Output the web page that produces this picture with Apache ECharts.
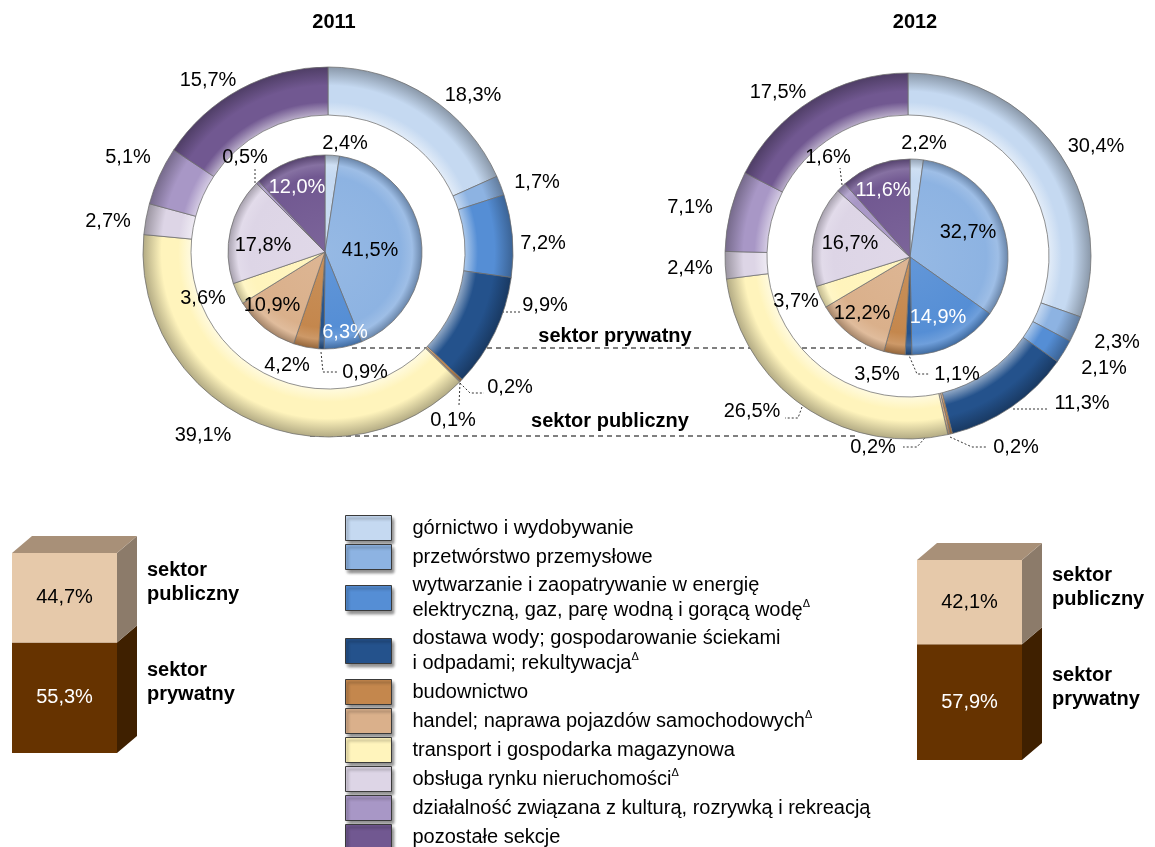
<!DOCTYPE html>
<html><head><meta charset="utf-8">
<script src="https://cdn.jsdelivr.net/npm/echarts/dist/echarts.min.js"></script>
<style>html,body{margin:0;padding:0;background:#fff}#c{width:1155px;height:847px}</style>
</head><body><div id="c"></div>
<script>
// ---------- DATA ----------
const categories = [
  'górnictwo i wydobywanie',
  'przetwórstwo przemysłowe',
  'wytwarzanie i zaopatrywanie w energię elektryczną, gaz, parę wodną i gorącą wodę',
  'dostawa wody; gospodarowanie ściekami i odpadami; rekultywacja',
  'budownictwo',
  'handel; naprawa pojazdów samochodowych',
  'transport i gospodarka magazynowa',
  'obsługa rynku nieruchomości',
  'działalność związana z kulturą, rozrywką i rekreacją',
  'pozostałe sekcje'
];
const legendText = [
  'górnictwo i wydobywanie',
  'przetwórstwo przemysłowe',
  '{L|wytwarzanie i zaopatrywanie w energię}\n{L|elektryczną, gaz, parę wodną i gorącą wodę}{sup|Δ}',
  '{L|dostawa wody; gospodarowanie ściekami}\n{L|i odpadami; rekultywacja}{sup|Δ}',
  'budownictwo',
  'handel; naprawa pojazdów samochodowych{sup|Δ}',
  'transport i gospodarka magazynowa',
  'obsługa rynku nieruchomości{sup|Δ}',
  'działalność związana z kulturą, rozrywką i rekreacją',
  'pozostałe sekcje'
];
const years = ['2011', '2012'];
const public2011  = [18.3, 1.7, 7.2, 9.9, 0.2, 0.1, 39.1, 2.7, 5.1, 15.7];
const private2011 = [2.4, 41.5, 6.3, 0.9, 4.2, 10.9, 3.6, 17.8, 0.5, 12.0];
const public2012  = [30.4, 2.3, 2.1, 11.3, 0.2, 0.2, 26.5, 2.4, 7.1, 17.5];
const private2012 = [2.2, 32.7, 14.9, 1.1, 3.5, 12.2, 3.7, 16.7, 1.6, 11.6];
const sectorNames = ['sektor publiczny', 'sektor prywatny'];
const sectorShare2011 = [44.7, 55.3];
const sectorShare2012 = [42.1, 57.9];
const connectorLabels = ['sektor prywatny', 'sektor publiczny'];

// ---------- STYLE / LAYOUT ----------
const FONT = "'Liberation Sans', Arial, Helvetica, sans-serif";
const catColors = ['#C5D9F1','#8DB3E2','#558ED5','#24528C','#C4874D','#DAB08B','#FFF4BC','#DDD5E6','#A897C6','#715891'];
const whiteInner = [2, 9];
const cubeStyles = [
  {front:'#E6C9AA', side:'#8C7B6A', top:'#A89078', text:'#000'},
  {front:'#663300', side:'#3F2000', top:'#4a2600', text:'#fff'}
];
function shade(hex, amt) {
  const n = parseInt(hex.slice(1), 16);
  let r = n >> 16, g = (n >> 8) & 255, b = n & 255;
  if (amt >= 0) { r += (255 - r) * amt; g += (255 - g) * amt; b += (255 - b) * amt; }
  else { r *= (1 + amt); g *= (1 + amt); b *= (1 + amt); }
  return 'rgb(' + Math.round(r) + ',' + Math.round(g) + ',' + Math.round(b) + ')';
}
function fmt(v) { return v.toFixed(1).replace('.', ',') + '%'; }

// pie geometry
const pies = [
  {values: public2011,  center: [328, 252], radius: [137, 185], ring: true},
  {values: private2011, center: [325, 252], radius: [0, 97],   ring: false},
  {values: public2012,  center: [908, 256], radius: [141, 183], ring: true},
  {values: private2012, center: [910, 257], radius: [0, 98],   ring: false}
];
// label offsets from pie center: [dx, dy, leaderLinePoints(optional)]
const labelPlace = [
  [[145,-157],[209,-70],[215,-9],[217,53,[[174,60],[193,60]]],[182,135,[[132,131],[142,141],[156,141]]],
   [125,168,[[132,131],[131,153]]],[-125,183],[-220,-31],[-200,-95],[-120,-172]],
  [[20,-109],[45,-2],[20,80],[40,120,[[-4,100],[-2,120],[13,120]]],[-38,113],[-53,53],[-122,46],[-62,-7],
   [-80,-95,[[-70,-69],[-70,-84]]],[-28,-65]],
  [[188,-110],[209,86],[196,112],[174,147,[[105,153],[140,153]]],[108,191,[[42,181],[64,191],[79,191]]],
   [-35,191,[[35,161],[9,191],[-5,191]]],[-156,155,[[-106,151],[-110,162],[-123,162]]],[-218,12],[-218,-49],[-130,-164]],
  [[14,-114],[58,-25],[28,60],[47,117,[[-2,96],[7,117],[20,117]]],[-33,117],[-48,56],[-114,44],[-60,-14],
   [-82,-100,[[-68,-72],[-70,-89]]],[-27,-67]]
];

function pieSeries(k) {
  const P = pies[k];
  const c = P.center, R = P.radius[1];
  return {
    type: 'pie', center: c, radius: P.radius, startAngle: 90, clockwise: true,
    avoidLabelOverlap: false, silent: true, z: 3,
    label: {show: true, position: 'outside', fontSize: 20, fontFamily: FONT, color: '#000',
      formatter: p => fmt(p.value)},
    labelLine: {show: false, smooth: false, lineStyle: {color: '#333', width: 1, type: [2, 2]}},
    labelLayout: function (p) {
      const it = labelPlace[k][p.dataIndex];
      const o = {x: c[0] + it[0], y: c[1] + it[1], align: 'center', verticalAlign: 'middle'};
      if (it[2]) o.labelLinePoints = it[2].map(q => [c[0] + q[0], c[1] + q[1]]);
      return o;
    },
    data: P.values.map((v, i) => {
      const col = catColors[i];
      let stops;
      if (P.ring) {
        const a = P.radius[0] / R;
        stops = [{offset: 0, color: col}, {offset: a, color: shade(col, 0.5)}, {offset: a + 0.07, color: col},
                 {offset: 0.9, color: col}, {offset: 1, color: shade(col, -0.3)}];
      } else {
        stops = [{offset: 0, color: shade(col, 0.08)}, {offset: 0.78, color: col},
                 {offset: 0.9, color: shade(col, 0.15)}, {offset: 1, color: shade(col, -0.25)}];
      }
      const d = {
        name: categories[i], value: v,
        itemStyle: {color: {type: 'radial', x: c[0], y: c[1], r: R, global: true, colorStops: stops},
                    borderColor: 'rgba(110,110,110,0.75)', borderWidth: 1}
      };
      if (labelPlace[k][i][2]) d.labelLine = {show: true};
      if (!P.ring && whiteInner.indexOf(i) >= 0) d.label = {color: '#fff'};
      return d;
    })
  };
}

function cubeRender(params, api) {
  const start = api.value(0), end = api.value(1), k = api.value(2), share = api.value(3);
  const pA = api.coord([0, start]), pB = api.coord([1, end]);
  const x0 = pA[0], yb = pA[1], x1 = pB[0], yt = pB[1];
  const dx = 20, dy = 17;
  const st = cubeStyles[k];
  const ch = [
    {type: 'rect', shape: {x: x0, y: yt, width: x1 - x0, height: yb - yt}, style: {fill: st.front}},
    {type: 'polygon', shape: {points: [[x1, yt], [x1 + dx, yt - dy], [x1 + dx, yb - dy], [x1, yb]]}, style: {fill: st.side}}
  ];
  if (end >= 99.99) ch.push({type: 'polygon', shape: {points: [[x0, yt], [x0 + dx, yt - dy], [x1 + dx, yt - dy], [x1, yt]]}, style: {fill: st.top}});
  ch.push({type: 'text', x: (x0 + x1) / 2, y: (yt + yb) / 2,
    style: {text: fmt(share), fill: st.text, font: '20px ' + FONT, align: 'center', verticalAlign: 'middle'}});
  ch.push({type: 'text', x: x1 + dx + 10, y: (yt + yb) / 2 - 15,
    style: {text: sectorNames[k].replace(' ', '\n'), fill: '#000', font: 'bold 20px ' + FONT,
      align: 'left', verticalAlign: 'middle', lineHeight: 24}});
  return {type: 'group', children: ch};
}
function cubeData(sh) { return [[0, sh[1], 1, sh[1]], [sh[1], sh[1] + sh[0], 0, sh[0]]]; }

const option = {
  animation: false,
  title: [
    {text: years[0], left: 329, top: 7, textAlign: 'center', textStyle: {fontSize: 20, fontWeight: 'bold', fontFamily: FONT, color: '#000'}},
    {text: years[1], left: 910, top: 7, textAlign: 'center', textStyle: {fontSize: 20, fontWeight: 'bold', fontFamily: FONT, color: '#000'}}
  ],
  grid: [
    {left: 12, top: 553, width: 105, height: 200},
    {left: 917, top: 560, width: 105, height: 200}
  ],
  xAxis: [
    {gridIndex: 0, type: 'value', min: 0, max: 1, show: false},
    {gridIndex: 1, type: 'value', min: 0, max: 1, show: false}
  ],
  yAxis: [
    {gridIndex: 0, type: 'value', min: 0, max: 100, show: false},
    {gridIndex: 1, type: 'value', min: 0, max: 100, show: false}
  ],
  legend: {
    orient: 'vertical', left: 340, top: 510, height: 420, itemWidth: 46, itemHeight: 25, itemGap: 3,
    icon: 'rect', selectedMode: false,
    data: categories.map((c, i) => ({name: c, itemStyle: {color: catColors[i], borderColor: '#3a3a3a', borderWidth: 1,
      shadowColor: 'rgba(0,0,0,0.45)', shadowBlur: 3, shadowOffsetX: 2, shadowOffsetY: 3}})),
    formatter: name => legendText[categories.indexOf(name)],
    textStyle: {fontSize: 20, fontFamily: FONT, color: '#000', lineHeight: 24, padding: [0, 0, 0, 16],
      rich: {
        L: {fontSize: 20, fontFamily: FONT, color: '#000', lineHeight: 25},
        sup: {fontSize: 11, fontFamily: FONT, color: '#000', verticalAlign: 'top', lineHeight: 12}
      }}
  },
  graphic: [
    {type: 'line', z: 0, shape: {x1: 352, y1: 348, x2: 866, y2: 348}, style: {stroke: '#000', lineWidth: 1, lineDash: [5, 4]}},
    {type: 'line', z: 0, shape: {x1: 310, y1: 436, x2: 857, y2: 436}, style: {stroke: '#000', lineWidth: 1, lineDash: [5, 4]}},
    {type: 'text', x: 615, y: 336, style: {text: connectorLabels[0], font: 'bold 20px ' + FONT, fill: '#000', align: 'center', verticalAlign: 'middle'}},
    {type: 'text', x: 610, y: 421, style: {text: connectorLabels[1], font: 'bold 20px ' + FONT, fill: '#000', align: 'center', verticalAlign: 'middle'}}
  ],
  series: [
    pieSeries(0), pieSeries(1), pieSeries(2), pieSeries(3),
    {type: 'custom', xAxisIndex: 0, yAxisIndex: 0, renderItem: cubeRender, data: cubeData(sectorShare2011), silent: true},
    {type: 'custom', xAxisIndex: 1, yAxisIndex: 1, renderItem: cubeRender, data: cubeData(sectorShare2012), silent: true}
  ]
};
const chart = echarts.init(document.getElementById('c'), null, {renderer: 'canvas'});
chart.setOption(option);
</script></body></html>
